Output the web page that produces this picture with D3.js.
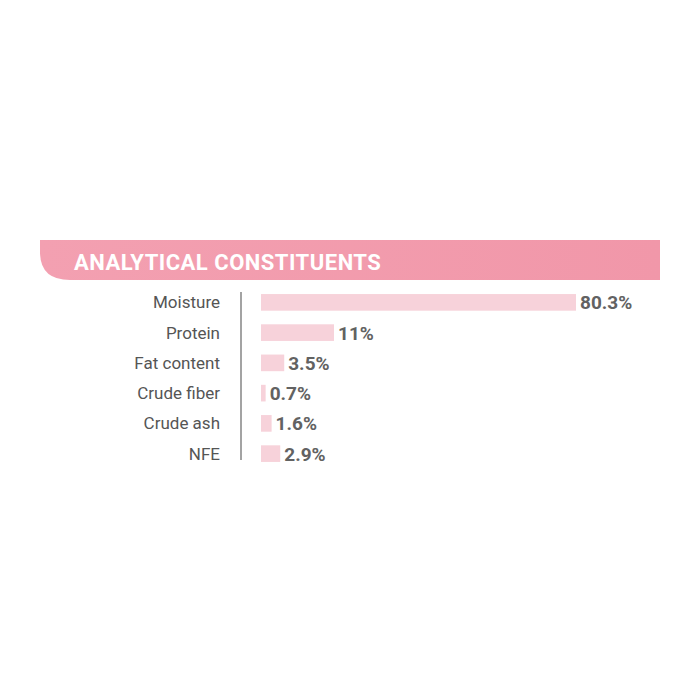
<!DOCTYPE html>
<html><head><meta charset="utf-8">
<script src="https://cdn.jsdelivr.net/npm/d3@7"></script>
<style>body{margin:0;background:#fff}</style>
</head><body><div id="chart"></div>
<script>
var categories = ["Moisture", "Protein", "Fat content", "Crude fiber", "Crude ash", "NFE"];
var values = [80.3, 11, 3.5, 0.7, 1.6, 2.9];
var valueLabels = ["80.3%", "11%", "3.5%", "0.7%", "1.6%", "2.9%"];
var title = "ANALYTICAL CONSTITUENTS";

var svg = d3.select("#chart").append("svg").attr("width", 700).attr("height", 700);

var defs = svg.append("defs");
var grad = defs.append("linearGradient").attr("id", "hdr");
grad.append("stop").attr("offset", "0%").attr("stop-color", "#f3a0b1");
grad.append("stop").attr("offset", "100%").attr("stop-color", "#f197a9");

// header band, rounded bottom-left corner
svg.append("path")
    .attr("d", "M40,240 H660 V280 H70 Q40,280 40,252 Z")
    .attr("fill", "url(#hdr)");
svg.append("text")
    .attr("x", 74).attr("y", 270)
    .attr("fill", "#fff")
    .attr("font-family", "Roboto, sans-serif")
    .attr("font-weight", "bold")
    .attr("font-size", 22)
    .attr("letter-spacing", 0.5)
    .text(title);

// bars are drawn non-linearly in the source: small values are stretched
var x = d3.scaleLinear().domain([0, 11, 80.3]).range([0, 73, 315]);
var y = d3.scaleBand().domain(categories).range([288, 468]).paddingInner(0.45).paddingOuter(0.2);
var x0 = 261;

svg.append("line")
    .attr("x1", 241).attr("x2", 241)
    .attr("y1", 292).attr("y2", 460)
    .attr("stroke", "#666").attr("stroke-width", 1.2);

var rows = svg.selectAll(".row").data(categories).enter().append("g").attr("class", "row");

rows.append("text")
    .attr("x", 220)
    .attr("y", function(d) { return y(d) + y.bandwidth() / 2; })
    .attr("dy", "0.35em")
    .attr("text-anchor", "end")
    .attr("fill", "#555")
    .attr("font-family", "Roboto, sans-serif")
    .attr("font-size", 17)
    .text(function(d) { return d; });

rows.append("rect")
    .attr("x", x0)
    .attr("y", function(d) { return y(d); })
    .attr("height", y.bandwidth())
    .attr("width", function(d, i) { return x(values[i]); })
    .attr("fill", "#f7d2da");

rows.append("text")
    .attr("x", function(d, i) { return x0 + x(values[i]) + 4; })
    .attr("y", function(d) { return y(d) + y.bandwidth() / 2; })
    .attr("dy", "0.37em")
    .attr("fill", "#626262")
    .attr("font-family", "Roboto, sans-serif")
    .attr("font-weight", "bold")
    .attr("font-size", 19)
    .text(function(d, i) { return valueLabels[i]; });
</script>
</body></html>
